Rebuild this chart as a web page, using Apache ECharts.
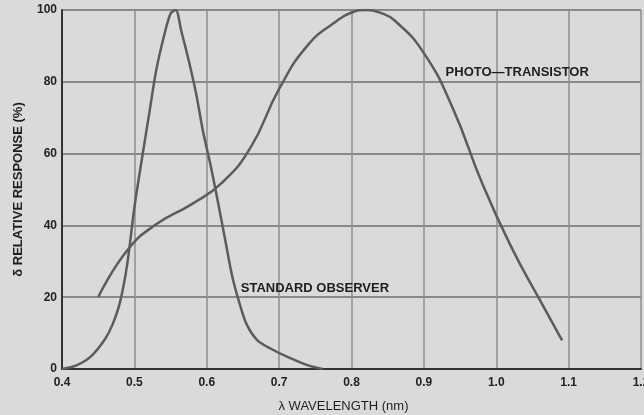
<!DOCTYPE html>
<html>
<head>
<meta charset="utf-8">
<script src="https://cdn.jsdelivr.net/npm/echarts@6/dist/echarts.min.js"></script>
<style>
html,body{margin:0;padding:0;background:#dadada;}
#c{width:644px;height:415px;}
</style>
</head>
<body>
<div id="c"></div>
<script>
// Wavelength (as labelled "nm") and relative response (%)
var stdObsX = [0.40,0.42,0.44,0.46,0.47,0.48,0.49,0.50,0.51,0.52,0.53,0.54,0.55,0.557,0.565,0.575,0.585,0.595,0.605,0.615,0.625,0.635,0.645,0.655,0.67,0.69,0.71,0.74,0.76];
var stdObsY = [0,1,3.5,8.5,12.5,18.5,29,45,58,70.5,83,92,99,100,94,86,77,66,57,47,36.5,26,18.5,12.5,8,5.5,3.5,1,0];
var photoX = [0.45,0.49,0.53,0.58,0.62,0.66,0.70,0.74,0.78,0.80,0.82,0.84,0.86,0.90,0.94,0.98,1.02,1.06,1.091];
var photoY = [20,33,40.3,46,51.7,61.5,78,90.3,97,99.3,100,99.2,97,88,72.6,52,34.3,19.3,8];
var xTickLabels = ['0.4','0.5','0.6','0.7','0.8','0.9','1.0','1.1','1.2'];
var yTickLabels = ['0','20','40','60','80','100'];
var seriesNames = ['STANDARD OBSERVER','PHOTO\u2014TRANSISTOR'];
var xAxisTitle = '\u03bb WAVELENGTH (nm)';
var yAxisTitle = '\u03b4 RELATIVE RESPONSE (%)';

function pairs(xs, ys){ return xs.map(function(x,i){ return [x, ys[i]]; }); }

var chart = echarts.init(document.getElementById('c'), null, {renderer:'canvas'});
var font = 'Liberation Sans, Arial, Helvetica, sans-serif';
var lineColor = '#5c5c5c';
chart.setOption({
  backgroundColor: '#dadada',
  animation: false,
  grid: {left: 62, right: 3, top: 10, bottom: 46, show: false, outerBoundsMode: 'none', containLabel: false},
  xAxis: {
    type: 'value', min: 0.4, max: 1.2, interval: 0.1,
    name: xAxisTitle, nameLocation: 'middle', nameGap: 31,
    nameTextStyle: {fontFamily: font, fontSize: 13, color: '#1e1e1e', padding: [0, 16, 0, 0]},
    axisLine: {show: true, onZero: false, lineStyle: {color: '#333', width: 2}},
    axisTick: {show: false},
    axisLabel: {fontFamily: font, fontSize: 12, fontWeight: 'bold', color: '#222', margin: 8,
      formatter: function(v){ return xTickLabels[Math.round((v-0.4)/0.1)]; }},
    splitLine: {show: true, lineStyle: {color: '#8e8e8e', width: 1.5}}
  },
  yAxis: {
    type: 'value', min: 0, max: 100, interval: 20,
    name: yAxisTitle, nameLocation: 'middle', nameGap: 37, nameRotate: 90,
    nameTextStyle: {fontFamily: font, fontSize: 13, fontWeight: 'bold', color: '#1e1e1e'},
    axisLine: {show: true, lineStyle: {color: '#333', width: 2}},
    axisTick: {show: false},
    axisLabel: {fontFamily: font, fontSize: 12, fontWeight: 'bold', color: '#222', margin: 5,
      formatter: function(v){ return yTickLabels[Math.round(v/20)]; }},
    splitLine: {show: true, lineStyle: {color: '#6e6e6e', width: 1.5}}
  },
  series: [
    {
      name: seriesNames[0], type: 'line', data: pairs(stdObsX, stdObsY),
      smooth: 0.3, showSymbol: false,
      lineStyle: {color: lineColor, width: 2.5},
      markPoint: {
        symbol: 'rect', symbolSize: 0,
        data: [{coord: [0.647, 22.5], value: seriesNames[0]}],
        label: {show: true, position: 'right', distance: 0, formatter: seriesNames[0],
          fontFamily: font, fontSize: 13, fontWeight: 'bold', color: '#1e1e1e'}
      }
    },
    {
      name: seriesNames[1], type: 'line', data: pairs(photoX, photoY),
      smooth: 0.5, showSymbol: false,
      lineStyle: {color: lineColor, width: 2.5},
      markPoint: {
        symbol: 'rect', symbolSize: 0,
        data: [{coord: [0.93, 82.7], value: seriesNames[1]}],
        label: {show: true, position: 'right', distance: 0, formatter: seriesNames[1],
          fontFamily: font, fontSize: 13, fontWeight: 'bold', color: '#1e1e1e'}
      }
    }
  ]
});
</script>
</body>
</html>
